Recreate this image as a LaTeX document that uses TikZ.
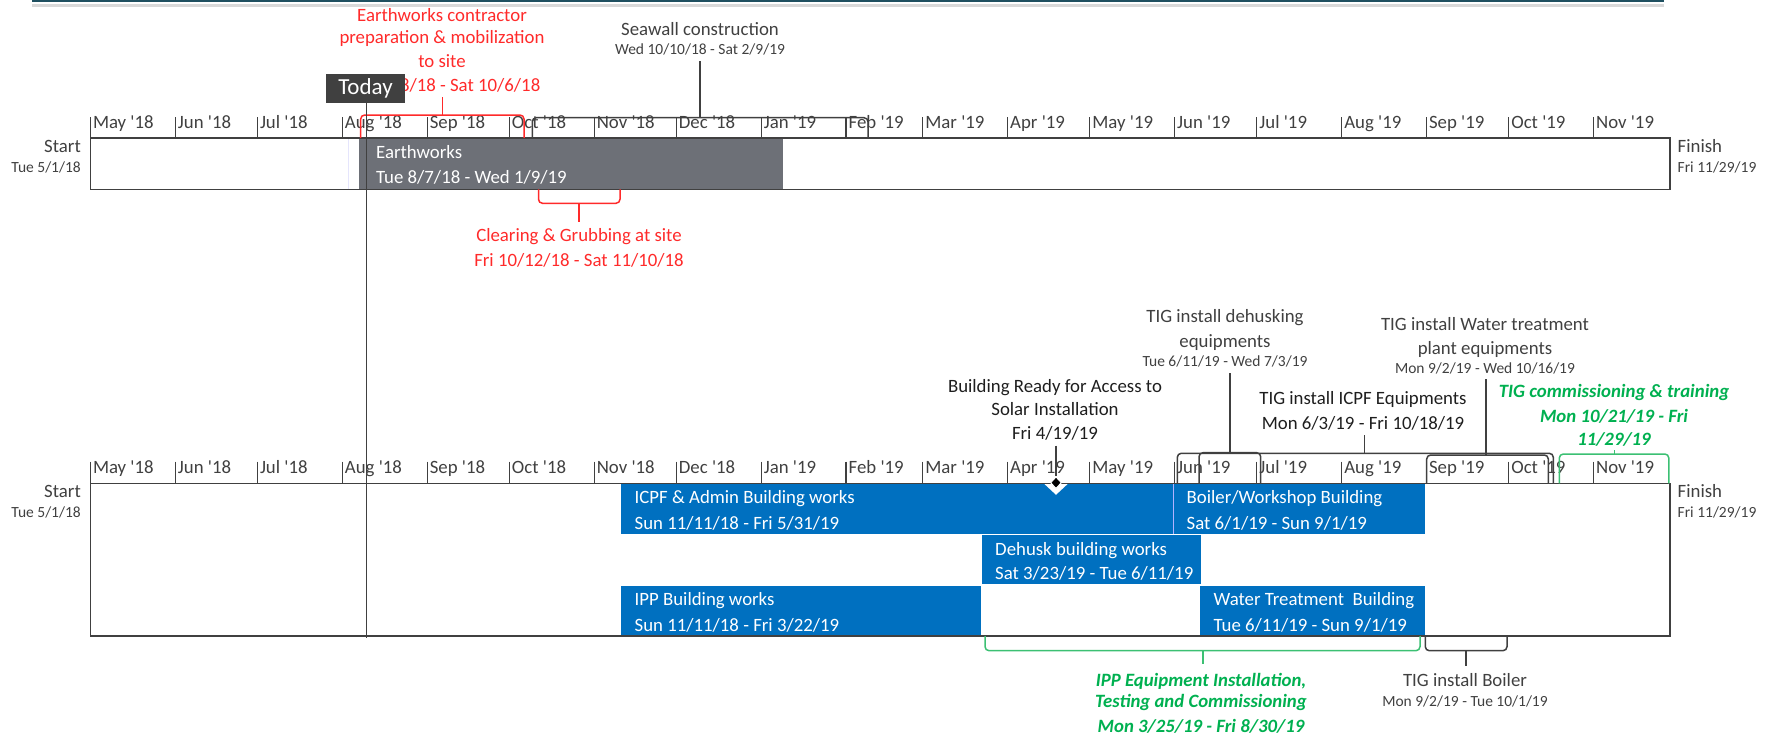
\documentclass[tikz,border=0pt]{standalone}
\usepackage{fontspec}
\setmainfont{Carlito}
\usetikzlibrary{shapes.geometric}
\definecolor{axc}{HTML}{404040}
\definecolor{ewg}{HTML}{6D7077}
\definecolor{blu}{HTML}{0070C0}
\definecolor{redc}{HTML}{FF2A2A}
\definecolor{grn}{HTML}{00B050}
\definecolor{grnl}{HTML}{3CC073}
\definecolor{topteal}{HTML}{1F5060}
\definecolor{blk}{HTML}{1E1E1E}
\newcommand{\myaq}{\textquotesingle}
\begin{document}
\begin{tikzpicture}[x=1pt,y=-1pt,
  txt/.style={inner sep=0pt, anchor=base, font=\fontsize{18.8}{22}\selectfont, text=axc},
  sml/.style={txt, font=\fontsize{15.5}{18}\selectfont},
  wtxt/.style={txt, anchor=base west, text=white},
  gtxt/.style={txt, text=grn, font=\fontsize{18.8}{22}\selectfont\bfseries\itshape},
  rtxt/.style={txt, text=redc},
  outl/.style={draw=axc, line width=1.6pt},
  tickl/.style={draw=axc, line width=1.1pt},
  brk/.style={line width=1.5pt, rounded corners=4pt},
  cal/.style={line width=1.3pt},
  ms/.style={shape=diamond, fill=black, draw=white, line width=1pt, minimum width=11pt, minimum height=12pt, inner sep=0pt}
]
\useasboundingbox (0,0) rectangle (1773,737);

% top window decoration
\draw[topteal, line width=1.6pt] (32,0.8) -- (1664,0.8);
\draw[black!15, line width=2.4pt] (32,5.5) -- (1664,5.5);

% ---------------- red callout text (under Today box)
\node[rtxt] (r1) at (442,21) {Earthworks contractor};
\node[rtxt] (r2) at (442,43.7) {preparation \& mobilization};
\node[rtxt] (r3) at (442,67) {to site};
\node[rtxt] (r4) at (442,91) {Wed 8/8/18 - Sat 10/6/18};

% Seawall text
\node[txt] (s1) at (700,35.3) {Seawall construction};
\node[sml] (s2) at (700,54.7) {Wed 10/10/18 - Sat 2/9/19};

% ---------------- top timeline
\fill[ewg] (358.6,138) rectangle (783,189.3);
\draw[black!12!blue!10, line width=1pt] (348.3,139) -- (348.3,188.5);
\node[wtxt] (ew1) at (376,158.5) {Earthworks};
\node[wtxt] (ew2) at (376,183) {Tue 8/7/18 - Wed 1/9/19};
\draw[outl] (90.3,138) rectangle (1670,189.3);
\foreach \xx/\mm/\yy [count=\i] in {90.3/May/18,175.2/Jun/18,257.3/Jul/18,342.2/Aug/18,427.1/Sep/18,509.2/Oct/18,594.1/Nov/18,676.2/Dec/18,761.1/Jan/19,846.0/Feb/19,922.7/Mar/19,1007.5/Apr/19,1089.7/May/19,1174.5/Jun/19,1256.7/Jul/19,1341.6/Aug/19,1426.4/Sep/19,1508.6/Oct/19,1593.4/Nov/19}{
  \draw[tickl] (\xx,117) -- (\xx,138);
  \node[txt, anchor=base west] (tt\i) at (\xx+2.5,128) {\mm\ \myaq\yy};
  \draw[tickl] (\xx,461.7) -- (\xx,483.3);
  \node[txt, anchor=base west] (tb\i) at (\xx+2.5,473.6) {\mm\ \myaq\yy};
}
\node[txt, anchor=base east] (st1) at (81,152.5) {Start};
\node[sml, anchor=base east] (st2) at (81,172.5) {Tue 5/1/18};
\node[txt, anchor=base west] (fi1) at (1677.5,152.5) {Finish};
\node[sml, anchor=base west] (fi2) at (1677.5,172.5) {Fri 11/29/19};

% red bracket (top)
\draw[brk, redc] (360.7,138) -- (360.7,115) -- (524,115) -- (524,138);
\coordinate (rbm) at (442.3,115);
\coordinate (rbt) at (442.3,97.3);
\draw[cal, redc] (rbm) -- (rbt);
% seawall bracket
\draw[brk, axc] (532.3,138) -- (532.3,117.7) -- (868,117.7) -- (868,138);
\coordinate (sbm) at (700,117.7);
\coordinate (sbt) at (700,61);
\draw[cal, axc] (sbm) -- (sbt);
% clearing bracket
\draw[brk, redc] (538.5,189.3) -- (538.5,203.3) -- (620,203.3) -- (620,189.3);
\coordinate (cbm) at (579,203.3);
\coordinate (cbb) at (579,221.7);
\draw[cal, redc] (cbm) -- (cbb);
\node[rtxt] (c1) at (579,241.7) {Clearing \& Grubbing at site};
\node[rtxt] (c2) at (579,266) {Fri 10/12/18 - Sat 11/10/18};

% ---------------- bottom timeline
\fill[blu] (621,483.3) rectangle (1173,533.6);
\fill[blu] (1173,483.3) rectangle (1425,533.6);
\draw[blue!30!white, line width=1pt] (1173,484) -- (1173,533.6);
\fill[blu] (981.5,535.1) rectangle (1201,584.4);
\fill[blu] (621,585.8) rectangle (981,636);
\fill[blu] (1200,585.8) rectangle (1425,636);
\node[wtxt] (b1a) at (634.5,503.5) {ICPF \& Admin Building works};
\node[wtxt] (b1b) at (634.5,529) {Sun 11/11/18 - Fri 5/31/19};
\node[wtxt] (b2a) at (1186.5,503.5) {Boiler/Workshop Building};
\node[wtxt] (b2b) at (1186.5,529) {Sat 6/1/19 - Sun 9/1/19};
\node[wtxt] (b3a) at (995,555) {Dehusk building works};
\node[wtxt] (b3b) at (995,579.3) {Sat 3/23/19 - Tue 6/11/19};
\node[wtxt] (b4a) at (634.5,605.3) {IPP Building works};
\node[wtxt] (b4b) at (634.5,631) {Sun 11/11/18 - Fri 3/22/19};
\node[wtxt] (b5a) at (1213.5,605.3) {Water Treatment~ Building};
\node[wtxt] (b5b) at (1213.5,631) {Tue 6/11/19 - Sun 9/1/19};
\draw[outl] (90.3,483.3) rectangle (1670,636);
\node[txt, anchor=base east] (sb1) at (81,497.8) {Start};
\node[sml, anchor=base east] (sb2) at (81,517.8) {Tue 5/1/18};
\node[txt, anchor=base west] (fb1) at (1677.5,497.8) {Finish};
\node[sml, anchor=base west] (fb2) at (1677.5,517.8) {Fri 11/29/19};

% milestone
\fill[white] (1044.5,484.1) -- (1067.5,484.1) -- (1056,494.8) -- cycle;
\node[ms] (mile) at (1056,482.7) {};
\node[txt, text=blk] (m1) at (1055,392) {Building Ready for Access to};
\node[txt, text=blk] (m2) at (1055,415) {Solar Installation};
\node[txt, text=blk] (m3) at (1055,439) {Fri 4/19/19};
\coordinate (mtop) at (1056,445.7);
\draw[cal, axc] (mtop) -- (mile.north);

% TIG ICPF bracket
\draw[brk, axc] (1177.3,483.3) -- (1177.3,453.3) -- (1553.3,453.3) -- (1553.3,483.3);
\coordinate (ibm) at (1364.7,453.3);
\coordinate (ibt) at (1364.7,435);
\draw[cal, axc] (ibm) -- (ibt);
\node[txt, text=blk] (i1) at (1363,404.3) {TIG install ICPF Equipments};
\node[txt, text=blk] (i2) at (1363,429.3) {Mon 6/3/19 - Fri 10/18/19};
% dehusking bracket
\draw[brk, axc] (1199,483.3) -- (1199,452.7) -- (1260.7,452.7) -- (1260.7,483.3);
\coordinate (dbm) at (1230,452.7);
\coordinate (dbt) at (1230,372.7);
\draw[cal, axc] (dbm) -- (dbt);
\node[txt] (d1) at (1225,322.7) {TIG install dehusking};
\node[txt] (d2) at (1225,347) {equipments};
\node[sml] (d3) at (1225,366) {Tue 6/11/19 - Wed 7/3/19};
% water bracket
\draw[brk, axc] (1426.7,483.3) -- (1426.7,455) -- (1548.3,455) -- (1548.3,483.3);
\coordinate (wbm) at (1486,455);
\coordinate (wbt) at (1486,379);
\draw[cal, axc] (wbm) -- (wbt);
\node[txt] (w1) at (1485,330.3) {TIG install Water treatment};
\node[txt] (w2) at (1485,354.3) {plant equipments};
\node[sml] (w3) at (1485,373.7) {Mon 9/2/19 - Wed 10/16/19};
% commissioning bracket
\draw[brk, grnl] (1559.3,483.3) -- (1559.3,454) -- (1668.8,454) -- (1668.8,483.3);
\coordinate (gbm) at (1614.7,454);
\coordinate (gbt) at (1614.7,450.2);
\draw[cal, grnl] (gbm) -- (gbt);
\node[gtxt] (g1) at (1614,397.7) {TIG commissioning \& training};
\node[gtxt] (g2) at (1614,422) {Mon 10/21/19 - Fri};
\node[gtxt] (g3) at (1614,445.3) {11/29/19};
% IPP equipment bracket
\draw[brk, grnl] (985,636) -- (985,650.7) -- (1420,650.7) -- (1420,636);
\coordinate (pbm) at (1203,650.7);
\coordinate (pbb) at (1203,664);
\draw[cal, grnl] (pbm) -- (pbb);
\node[gtxt] (p1) at (1201,686) {IPP Equipment Installation,};
\node[gtxt] (p2) at (1201,707.7) {Testing and Commissioning};
\node[gtxt] (p3) at (1201,732.5) {Mon 3/25/19 - Fri 8/30/19};
% boiler bracket
\draw[brk, axc] (1425.3,636) -- (1425.3,650.7) -- (1507,650.7) -- (1507,636);
\coordinate (obm) at (1466,650.7);
\coordinate (obb) at (1466,665.7);
\draw[cal, axc] (obm) -- (obb);
\node[txt] (o1) at (1465,686) {TIG install Boiler};
\node[sml] (o2) at (1465,706) {Mon 9/2/19 - Tue 10/1/19};

% ---------------- Today
\node[fill=axc, text=white, inner sep=0pt, minimum width=79pt, minimum height=28.7pt, font=\fontsize{23}{26}\selectfont] (today) at (365.5,88.35) {Today};
\coordinate (tend) at (366.7,638);
\draw[axc, line width=1.5pt] (today.south -| tend) -- (tend);
\end{tikzpicture}
\end{document}
